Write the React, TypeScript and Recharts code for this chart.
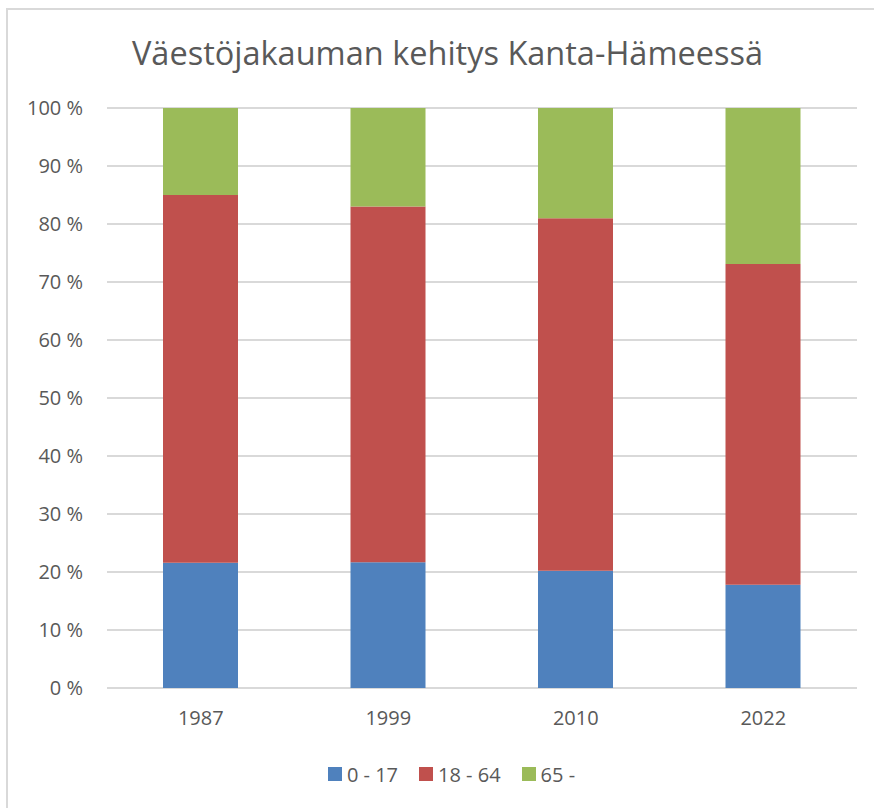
import React from 'react';
import { BarChart, Bar, XAxis, YAxis, CartesianGrid, Legend } from 'recharts';

const years = ['1987', '1999', '2010', '2022'];
const age0to17 = [21.6, 21.7, 20.2, 17.8];
const age18to64 = [63.4, 61.3, 60.8, 55.3];
const age65plus = [15.0, 17.0, 19.0, 26.9];
const yTicks = [0, 10, 20, 30, 40, 50, 60, 70, 80, 90, 100];

const seriesNames = ['0 - 17', '18 - 64', '65 -'];
const seriesColors = ['#4f81bd', '#c0504d', '#9bbb59'];
const seriesKeys = ['a', 'b', 'c'];

const data = years.map((y, i) => ({
  year: y,
  a: age0to17[i],
  b: age18to64[i],
  c: age65plus[i],
}));

const FONT = '"Open Sans", "Liberation Sans", sans-serif';
const TEXT = '#595959';

const renderLegend = () => (
  <div
    style={{
      display: 'flex',
      justifyContent: 'center',
      alignItems: 'center',
      gap: 21,
      height: 28,
      width: 874,
      paddingLeft: 29,
      boxSizing: 'border-box',
      fontFamily: FONT,
      fontSize: 20,
      color: TEXT,
    }}
  >
    {seriesNames.map((n, i) => (
      <div key={n} style={{ display: 'flex', alignItems: 'center' }}>
        <span style={{ display: 'inline-block', width: 14, height: 14, background: seriesColors[i], marginRight: 5 }} />
        <span>{n}</span>
      </div>
    ))}
  </div>
);

export default function App() {
  return (
    <div style={{ position: 'fixed', left: 0, top: 0, width: 874, height: 808, overflow: 'hidden', background: '#fff' }}>
      <div
        style={{
          position: 'absolute',
          left: 6,
          top: 8,
          width: 900,
          height: 900,
          borderLeft: '2px solid #d9d9d9',
          borderTop: '2px solid #d9d9d9',
          boxSizing: 'border-box',
        }}
      />
      <div
        style={{
          position: 'absolute',
          left: 3,
          width: 889,
          top: 37,
          textAlign: 'center',
          fontFamily: FONT,
          fontSize: 32.5,
          lineHeight: '32px',
          fontWeight: 400,
          color: TEXT,
          whiteSpace: 'nowrap',
        }}
      >
        Väestöjakauman kehitys Kanta-Hämeessä
      </div>
      <div style={{ position: 'absolute', left: 0, top: 0 }}>
        <BarChart width={874} height={808} data={data} margin={{ top: 108, right: 17, bottom: 20, left: 7 }}>
          <CartesianGrid vertical={false} stroke="#d9d9d9" strokeWidth={2} />
          <XAxis
            dataKey="year"
            axisLine={false}
            tickLine={false}
            tickSize={0}
            tickMargin={23}
            height={72}
            interval={0}
            tick={{ fill: TEXT, fontSize: 20, fontFamily: FONT }}
          />
          <YAxis
            domain={[0, 100]}
            ticks={yTicks}
            tickFormatter={(v: number) => `${v} %`}
            axisLine={false}
            tickLine={false}
            tickSize={0}
            tickMargin={24}
            width={100}
            tick={{ fill: TEXT, fontSize: 20, fontFamily: FONT }}
          />
          <Legend verticalAlign="bottom" content={renderLegend} wrapperStyle={{ left: 0, width: 874 }} />
          {seriesKeys.map((k, i) => (
            <Bar key={k} dataKey={k} name={seriesNames[i]} stackId="s" fill={seriesColors[i]} barSize={75} isAnimationActive={false} />
          ))}
        </BarChart>
      </div>
    </div>
  );
}
